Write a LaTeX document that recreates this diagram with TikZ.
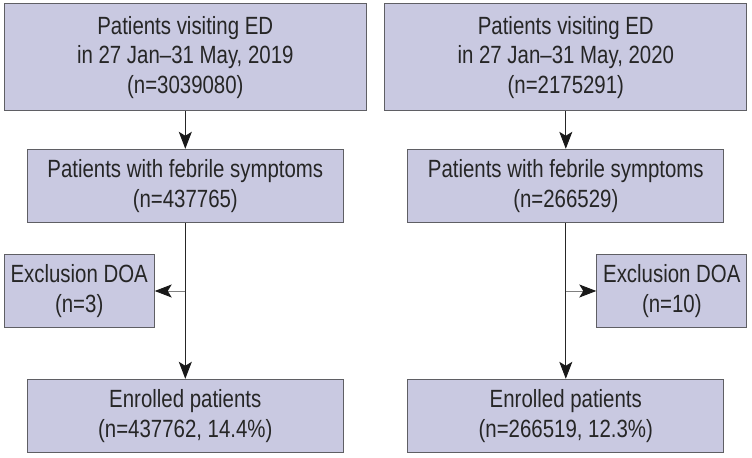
\documentclass[tikz,border=0pt]{standalone}
\usepackage{fontspec}
\setmainfont{Liberation Sans}[FakeStretch=0.82]
\usetikzlibrary{arrows.meta, positioning}
\usepackage{xcolor}
\definecolor{boxfill}{RGB}{201,201,225}
\definecolor{boxline}{RGB}{95,95,100}
\begin{document}
\begin{tikzpicture}[x=1bp, y=-1bp,
  flowbox/.style={draw=boxline, line width=1bp, fill=boxfill, align=center, inner sep=0pt,
    font=\fontsize{25}{30}\selectfont, text=black!85, minimum height=73.4bp},
  wide/.style={minimum width=316bp},
  arr/.style={draw=black!85, line width=0.9bp, -{Stealth[length=17bp, width=13bp, inset=4bp, color=black!90]}}]
\useasboundingbox (0,0) rectangle (752,458);
% 2019 column
\node[flowbox, minimum width=362bp, minimum height=107bp] (ltop) at (185.3,57.5)
  {Patients visiting ED\\in 27 Jan--31 May, 2019\\(n=3039080)};
\node[flowbox, wide] (lfeb) at (185.3,186) {Patients with febrile symptoms\\(n=437765)};
\node[flowbox, minimum width=150bp] (lexc) at (79.2,291) {Exclusion DOA\\(n=3)};
\node[flowbox, wide] (lenr) at (185.3,416) {Enrolled patients\\(n=437762, 14.4\%)};
% 2020 column
\node[flowbox, minimum width=362bp, minimum height=107bp] (rtop) at (565.8,57.5)
  {Patients visiting ED\\in 27 Jan--31 May, 2020\\(n=2175291)};
\node[flowbox, wide] (rfeb) at (565.8,186) {Patients with febrile symptoms\\(n=266529)};
\node[flowbox, minimum width=150bp] (rexc) at (671.8,291) {Exclusion DOA\\(n=10)};
\node[flowbox, wide] (renr) at (565.8,416) {Enrolled patients\\(n=266519, 12.3\%)};
\coordinate (lbr) at (lfeb |- lexc);
\coordinate (rbr) at (rfeb |- rexc);
% connectors
\draw[arr] (ltop) -- (lfeb);
\draw[arr] (lfeb) -- (lenr);
\draw[arr, draw=black!50] (lbr) -- (lexc);
\draw[arr] (rtop) -- (rfeb);
\draw[arr] (rfeb) -- (renr);
\draw[arr, draw=black!50] (rbr) -- (rexc);
\end{tikzpicture}
\end{document}
